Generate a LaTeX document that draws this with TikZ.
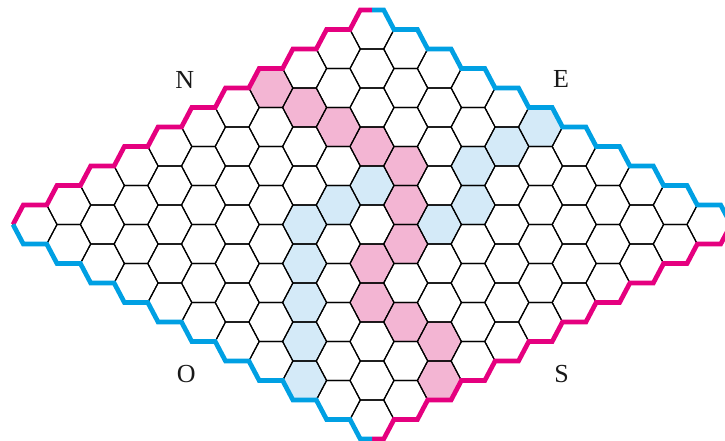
\documentclass[tikz,border=0pt]{standalone}
\usepackage{fontspec}
\setmainfont{Liberation Serif}
\definecolor{hexpink}{RGB}{229,0,127}
\definecolor{hexblue}{RGB}{0,160,227}
\definecolor{fillpink}{RGB}{243,181,211}
\definecolor{fillblue}{RGB}{212,234,248}
\begin{document}
\begin{tikzpicture}[x=1pt,y=-1pt,
  cellgrid/.style={draw=black,line width=1.15pt,line join=miter},
  pinkedge/.style={draw=hexpink,line width=4.7pt,line join=miter},
  blueedge/.style={draw=hexblue,line width=4.7pt,line join=miter},
  lbl/.style={font=\fontsize{26}{30}\selectfont,inner sep=0pt,text=black!90}]
\useasboundingbox (0,0) rectangle (725,441);
% coloured cells
\foreach \ca/\cb in {7/0,7/1,7/2,7/3,7/4,6/5,5/6,4/6,3/7,3/8,3/9,2/10} {
  \fill[fillpink, shift={({35+33.7*(\ca+\cb)},{224.5+19.5*(\cb-\ca)})}]
    (-22,0) -- (-11.7,-19.5) -- (11.7,-19.5) -- (22,0) -- (11.7,19.5) -- (-11.7,19.5) -- cycle;
}
\foreach \ca/\cb in {0/8,1/7,2/6,3/5,4/4,5/4,6/4,6/6,7/6,8/5,9/5,10/5} {
  \fill[fillblue, shift={({35+33.7*(\ca+\cb)},{224.5+19.5*(\cb-\ca)})}]
    (-22,0) -- (-11.7,-19.5) -- (11.7,-19.5) -- (22,0) -- (11.7,19.5) -- (-11.7,19.5) -- cycle;
}
% grid
\foreach \ca in {0,...,10} {
  \foreach \cb in {0,...,10} {
    \draw[cellgrid, shift={({35+33.7*(\ca+\cb)},{224.5+19.5*(\cb-\ca)})}]
      (-22,0) -- (-11.7,-19.5) -- (11.7,-19.5) -- (22,0) -- (11.7,19.5) -- (-11.7,19.5) -- cycle;
  }
}
% borders
\coordinate (west) at (13,224.5);
\coordinate (north) at (372,10);
\coordinate (east) at (731,224.5);
\coordinate (south) at (372,439);
\draw[pinkedge] (west) foreach \ca in {0,...,9} { -- ({23.3+33.7*\ca},{205-19.5*\ca}) -- ({46.7+33.7*\ca},{205-19.5*\ca}) } -- (360.3,10) -- (north);
\draw[blueedge] (north) foreach \cb in {0,...,10} { -- ({383.7+33.7*\cb},{10+19.5*\cb}) -- ({394+33.7*\cb},{29.5+19.5*\cb}) } -- (east);
\draw[pinkedge] (east) foreach \ca in {10,...,1} { -- ({383.7+33.7*\ca},{439-19.5*\ca}) -- ({360.3+33.7*\ca},{439-19.5*\ca}) } -- (383.7,439) -- (south);
\draw[blueedge] (south) foreach \cb in {10,...,0} { -- ({23.3+33.7*\cb},{244+19.5*\cb}) -- ({13+33.7*\cb},{224.5+19.5*\cb}) } -- (west);
% labels
\node[lbl] (lblN) at (184.7,79.5) {N};
\node[lbl] (lblE) at (561,78.5) {E};
\node[lbl] (lblO) at (186.3,374) {O};
\node[lbl] (lblS) at (561.7,374) {S};
\end{tikzpicture}
\end{document}
